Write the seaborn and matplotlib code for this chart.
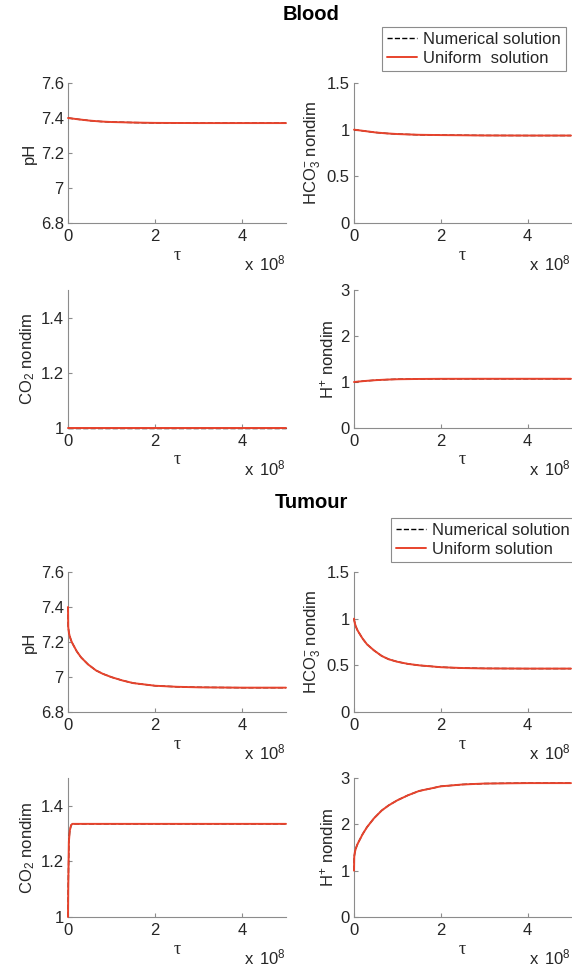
import matplotlib
matplotlib.use("Agg")
import matplotlib.pyplot as plt
from matplotlib.lines import Line2D
import seaborn as sns
import numpy as np

# ---------------- data ----------------
tau_blood = np.array([0, 0.25, 0.5, 0.75, 1.0, 1.5, 2.0, 3.0, 4.0, 5.0]) * 1e8
ph_blood = [7.400, 7.392, 7.385, 7.380, 7.377, 7.374, 7.372, 7.371, 7.371, 7.371]
hco3_blood = [1.000, 0.985, 0.970, 0.960, 0.953, 0.945, 0.942, 0.938, 0.937, 0.937]
co2_blood = [1.0, 1.0, 1.0, 1.0, 1.0, 1.0, 1.0, 1.0, 1.0, 1.0]
h_blood = [1.000, 1.022, 1.040, 1.052, 1.060, 1.066, 1.069, 1.070, 1.070, 1.070]

tau_tumour = np.array([0, 0.005, 0.02, 0.04, 0.07, 0.1, 0.2, 0.3, 0.46, 0.64, 0.8,
                       1.0, 1.25, 1.5, 2.0, 2.5, 3.0, 4.0, 5.0]) * 1e8
ph_tumour = [7.400, 7.286, 7.254, 7.233, 7.210, 7.193, 7.147, 7.112, 7.072, 7.038, 7.018,
             6.999, 6.980, 6.965, 6.950, 6.944, 6.941, 6.939, 6.939]
hco3_tumour = [1.000, 0.985, 0.950, 0.920, 0.885, 0.860, 0.785, 0.725, 0.660, 0.600, 0.565,
               0.538, 0.515, 0.500, 0.480, 0.471, 0.467, 0.465, 0.465]
co2_tumour = [1.000, 1.100, 1.270, 1.310, 1.330, 1.335, 1.335, 1.335, 1.335, 1.335, 1.335,
              1.335, 1.335, 1.335, 1.335, 1.335, 1.335, 1.335, 1.335]
h_tumour = [1.000, 1.300, 1.400, 1.470, 1.550, 1.610, 1.790, 1.940, 2.130, 2.300, 2.410,
            2.520, 2.630, 2.720, 2.820, 2.860, 2.880, 2.890, 2.890]

x_ticks = [0, 2e8, 4e8]
x_ticklabels = ["0", "2", "4"]
legend_labels_blood = ["Numerical solution", "Uniform  solution"]
legend_labels_tumour = ["Numerical solution", "Uniform solution"]

# ---------------- style ----------------
sns.set_theme(style="ticks")
plt.rcParams["font.family"] = ["Liberation Sans", "DejaVu Sans"]
plt.rcParams["mathtext.fontset"] = "custom"
plt.rcParams["mathtext.rm"] = "Liberation Sans"
plt.rcParams["mathtext.it"] = "Liberation Sans:italic"
plt.rcParams["mathtext.bf"] = "Liberation Sans:bold"

RED = "#e8432c"
TXT = "#262626"
SPINE = "#8c8c8c"
FS = 12

W, H = 572, 968
fig = plt.figure(figsize=(W / 100, H / 100), dpi=100)


def px_axes(left, top, right, bottom):
    return fig.add_axes([left / W, 1 - bottom / H, (right - left) / W, (bottom - top) / H])


def panel(ax, tau, y, ylabel, ylim, yticks, yticklabels):
    sns.lineplot(x=tau, y=y, ax=ax, color="black", linestyle="--", linewidth=1.0,
                 sort=False, estimator=None)
    sns.lineplot(x=tau, y=y, ax=ax, color=RED, linewidth=1.4, sort=False, estimator=None)
    for ln in ax.lines:
        ln.set_clip_on(False)
        ln.set_zorder(3)
    ax.set_xlim(0, 5e8)
    ax.set_ylim(*ylim)
    ax.set_xticks(x_ticks)
    ax.set_xticklabels(x_ticklabels)
    ax.set_yticks(yticks)
    ax.set_yticklabels(yticklabels)
    ax.tick_params(direction="in", length=3, width=0.8, colors=SPINE, labelcolor=TXT,
                   labelsize=FS, pad=3)
    ax.tick_params(axis="x", pad=4)
    for s in ["top", "right"]:
        ax.spines[s].set_visible(False)
    for s in ["left", "bottom"]:
        ax.spines[s].set_color(SPINE)
        ax.spines[s].set_linewidth(0.8)
    ax.set_ylabel(ylabel, fontsize=FS, color=TXT, labelpad=3)
    ax.set_xlabel("τ", fontsize=FS + 1, color=TXT, family="Liberation Serif")
    ax.xaxis.set_label_coords(0.5, -0.17)
    ax.annotate(r"x $\,$10$^{8}$", xy=(1, 0), xycoords="axes fraction", xytext=(0, -29),
                textcoords="offset points", ha="right", va="center", fontsize=FS, color=TXT)


rows = [(83, 223), (290, 428), (572, 712), (778, 917)]
LX = (68, 286)
RX = (354, 571)

ax1 = px_axes(LX[0], rows[0][0], LX[1], rows[0][1])
panel(ax1, tau_blood, ph_blood, "pH", (6.8, 7.6), [6.8, 7.0, 7.2, 7.4, 7.6],
      ["6.8", "7", "7.2", "7.4", "7.6"])
ax2 = px_axes(RX[0], rows[0][0], RX[1], rows[0][1])
panel(ax2, tau_blood, hco3_blood, r"HCO$_3^{-}$ nondim", (0, 1.5), [0, 0.5, 1, 1.5],
      ["0", "0.5", "1", "1.5"])
ax3 = px_axes(LX[0], rows[1][0], LX[1], rows[1][1])
panel(ax3, tau_blood, co2_blood, r"CO$_2$ nondim", (1, 1.5), [1, 1.2, 1.4],
      ["1", "1.2", "1.4"])
ax4 = px_axes(RX[0], rows[1][0], RX[1], rows[1][1])
panel(ax4, tau_blood, h_blood, r"H$^{+}$ nondim", (0, 3), [0, 1, 2, 3],
      ["0", "1", "2", "3"])

ax5 = px_axes(LX[0], rows[2][0], LX[1], rows[2][1])
panel(ax5, tau_tumour, ph_tumour, "pH", (6.8, 7.6), [6.8, 7.0, 7.2, 7.4, 7.6],
      ["6.8", "7", "7.2", "7.4", "7.6"])
ax6 = px_axes(RX[0], rows[2][0], RX[1], rows[2][1])
panel(ax6, tau_tumour, hco3_tumour, r"HCO$_3^{-}$ nondim", (0, 1.5), [0, 0.5, 1, 1.5],
      ["0", "0.5", "1", "1.5"])
ax7 = px_axes(LX[0], rows[3][0], LX[1], rows[3][1])
panel(ax7, tau_tumour, co2_tumour, r"CO$_2$ nondim", (1, 1.5), [1, 1.2, 1.4],
      ["1", "1.2", "1.4"])
ax8 = px_axes(RX[0], rows[3][0], RX[1], rows[3][1])
panel(ax8, tau_tumour, h_tumour, r"H$^{+}$ nondim", (0, 3), [0, 1, 2, 3],
      ["0", "1", "2", "3"])

# titles
fig.text(311 / W, 1 - 14 / H, "Blood", ha="center", va="center", fontsize=14.5,
         fontweight="bold", color="black")
fig.text(311 / W, 1 - 503 / H, "Tumour", ha="center", va="center", fontsize=14.5,
         fontweight="bold", color="black")

# legends
handles = [Line2D([], [], color="black", linestyle="--", linewidth=1.0),
           Line2D([], [], color=RED, linewidth=1.4)]
leg_kw = dict(loc="upper left", fontsize=FS, frameon=True, fancybox=False,
              edgecolor=SPINE, framealpha=1, borderaxespad=0, borderpad=0.3,
              labelspacing=0.25, handlelength=1.8, handletextpad=0.35)
leg1 = fig.legend(handles, legend_labels_blood, bbox_to_anchor=(382 / W, 1 - 27 / H), **leg_kw)
leg2 = fig.legend(handles, legend_labels_tumour, bbox_to_anchor=(391 / W, 1 - 518 / H), **leg_kw)
for leg in (leg1, leg2):
    leg.get_frame().set_linewidth(0.8)
    for t in leg.get_texts():
        t.set_color(TXT)

fig.savefig("out.png", dpi=100)
